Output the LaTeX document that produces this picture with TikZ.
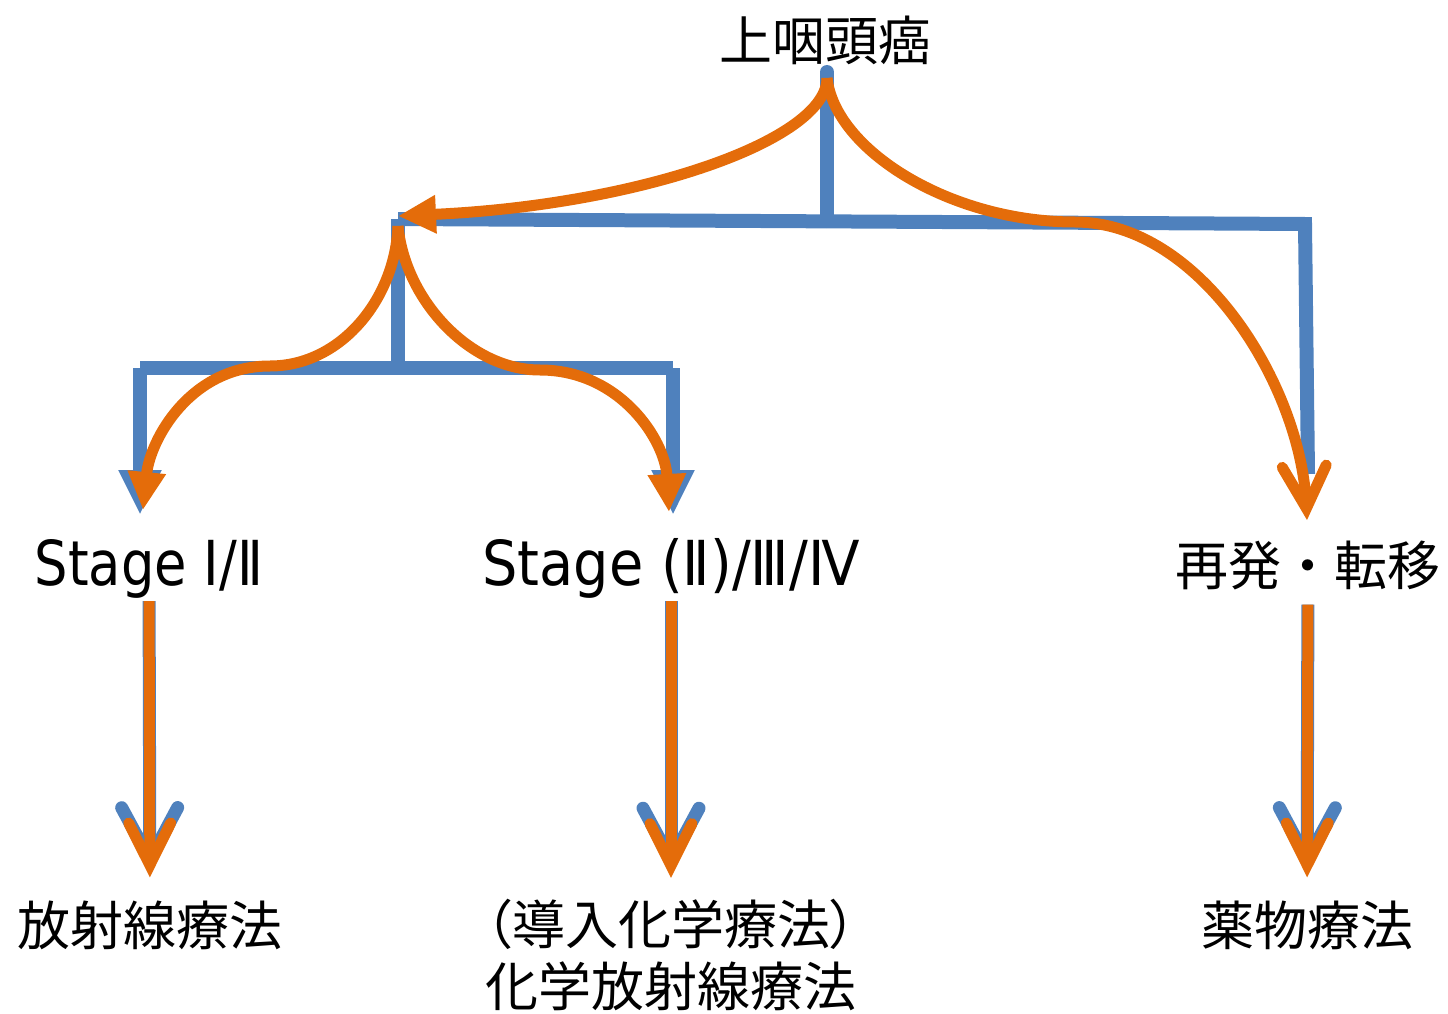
\documentclass[tikz,border=0pt]{standalone}
\usepackage{fontspec}
\usepackage{graphicx}
\setmainfont{Noto Sans CJK JP}
\newfontfamily\latinfont{DejaVu Sans}
\newcommand{\lat}[2][0.85]{{\fontsize{62}{62}\latinfont\selectfont\scalebox{#1}[1]{#2}}}
\usetikzlibrary{arrows.meta}
\definecolor{treeblue}{HTML}{4F81BD}
\definecolor{arroworange}{HTML}{E46C0A}
\tikzset{
  lbl/.style={inner sep=0pt, font=\fontsize{53}{62}\selectfont, align=center},
  bluetree/.style={draw=treeblue, line width=14pt, line join=miter},
  orangecurve/.style={draw=arroworange, line width=11pt},
  bluetri/.style={-{Triangle[length=45pt,width=40pt]}},
  orangetri/.style={-{Triangle[length=38pt,width=36pt]}},
  bluebarb/.style={draw=treeblue, line width=13pt,
     -{Straight Barb[length=52pt,width=56pt,line cap=round,line join=miter]}},
  orangebarb/.style={draw=arroworange, line width=11pt,
     -{Straight Barb[length=42pt,width=42pt,line cap=round,line join=miter]}},
}
\begin{document}
\begin{tikzpicture}[x=1pt,y=-1pt]
\useasboundingbox (0,0) rectangle (1448,1014);

% labels
\node[lbl] (top) at (825,40) {上咽頭癌};
\node[lbl, anchor=base] (s1) at (149,585) {\lat{Stage Ⅰ/Ⅱ}};
\node[lbl, anchor=base] (s2) at (671,585) {\lat[0.9]{Stage (Ⅱ)/Ⅲ/Ⅳ}};
\node[lbl] (s3) at (1308,565) {再発・転移};
\node[lbl] (t1) at (150,925) {放射線療法};
\node[lbl] (t2) at (671,955) {{\addfontfeature{RawFeature=+palt}（}導入化学療法{\addfontfeature{RawFeature=+palt}）}\\化学放射線療法};
\node[lbl] (t3) at (1307,925) {薬物療法};

% tree coordinates
\coordinate (a0) at (827,72);
\coordinate (j0) at (827,221);
\coordinate (jl) at (398,219);
\coordinate (jr) at (1305,224);
\coordinate (er) at (1308,474);
\coordinate (k0) at (398,368);
\coordinate (kl) at (140,368);
\coordinate (kr) at (673,368);
\coordinate (el) at (140,515);
\coordinate (em) at (673,515);

% blue tree
\draw[bluetree, line cap=round] (a0) -- (j0);
\draw[bluetree] (jl) -- (jr) -- (er);
\draw[bluetree] (jl) -- (k0);
\draw[bluetree, bluetri] (kl) -- (el);
\draw[bluetree, bluetri] (kr) -- (em);
\draw[bluetree] (kl) -- (kr);

% orange curves
\coordinate (o0) at (827,78);
\coordinate (oj) at (398,216);
\coordinate (om) at (1075,222);
\coordinate (or) at (1307,520);
\coordinate (p0) at (398,226);
\coordinate (pl) at (270,366);
\coordinate (pr) at (540,370);
\coordinate (ol) at (143,510);
\coordinate (oc) at (669,512);

\draw[orangecurve, orangetri] (o0) .. controls (827,140) and (640,205) .. (oj);
\draw[orangecurve, -{Straight Barb[length=42pt,width=44pt,line cap=round,line join=miter]}]
  (o0) .. controls (835,150) and (950,222) .. (om) .. controls (1200,222) and (1300,385) .. (or);
\draw[orangecurve, orangetri] (p0) .. controls (395,300) and (340,366) .. (pl) .. controls (190,366) and (150,440) .. (ol);
\draw[orangecurve, orangetri] (p0) .. controls (405,300) and (470,370) .. (pr) .. controls (620,370) and (665,440) .. (oc);

% bottom arrows
\draw[bluebarb, shorten <=3pt, shorten >=27pt] (s1) -- (t1);
\draw[orangebarb, shorten <=3pt, shorten >=23pt] (s1) -- (t1);
\draw[bluebarb, shorten <=3pt, shorten >=25pt] (s2) -- (t2);
\draw[orangebarb, shorten <=3pt, shorten >=21pt] (s2) -- (t2);
\draw[bluebarb, shorten <=15pt, shorten >=27pt] (s3) -- (t3);
\draw[orangebarb, shorten <=15pt, shorten >=23pt] (s3) -- (t3);
\end{tikzpicture}
\end{document}
